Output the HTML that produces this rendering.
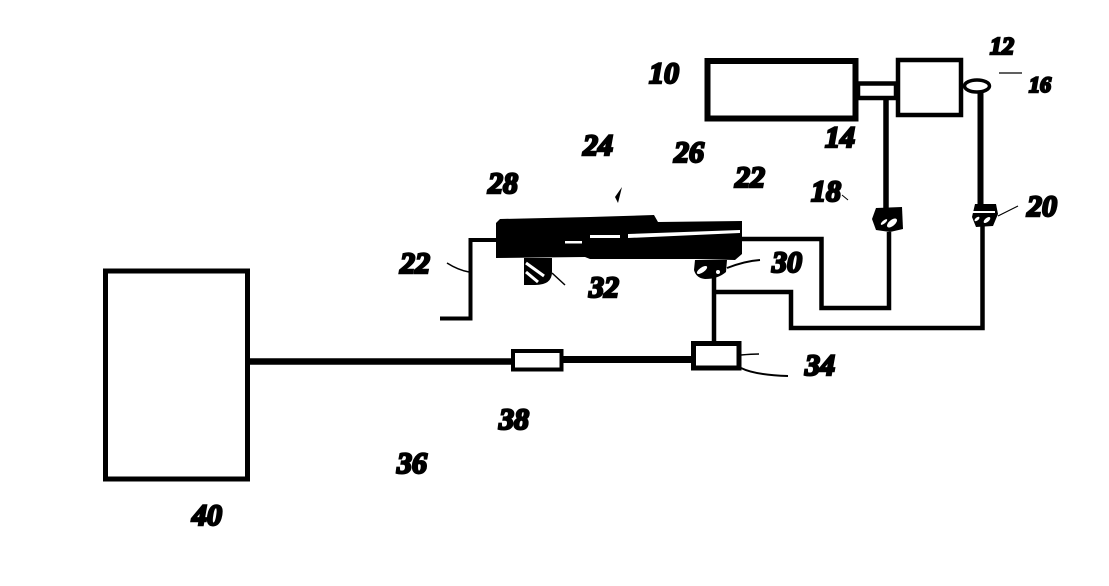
<!DOCTYPE html>
<html>
<head>
<meta charset="utf-8">
<style>
html,body{margin:0;padding:0;background:#fff;width:1109px;height:586px;overflow:hidden}
svg{display:block}
text{font-family:"Liberation Serif",serif;font-style:italic;font-weight:bold;font-size:30px;fill:#000;stroke:#000;stroke-width:2.4px;text-anchor:middle}
</style>
</head>
<body>
<svg width="1109" height="586" viewBox="0 0 1109 586" xmlns="http://www.w3.org/2000/svg">
<rect width="1109" height="586" fill="#fff"/>
<g fill="none" stroke="#000">
  <!-- top boxes -->
  <rect x="707.500" y="61" width="148" height="57.500" stroke-width="6"/>
  <rect x="898" y="60" width="63" height="55" stroke-width="4.500"/>
  <rect x="858" y="83.500" width="38" height="14.500" stroke-width="4.500"/>
  <!-- sensor -->
  <ellipse cx="977" cy="86" rx="12.500" ry="6" stroke-width="3.500"/>
  <!-- hoses -->
  <path d="M886 98V208" stroke-width="5.500"/>
  <path d="M980.500 92V205" stroke-width="6"/>
  <path d="M889 232V308H821.500V239H742" stroke-width="4.500"/>
  <path d="M982.500 226V328H791V292H714" stroke-width="4.500"/>
  <path d="M714 272V343" stroke-width="4.500"/>
  <path d="M496 240H470.500V318.500H440" stroke-width="4"/>
  <!-- bottom line -->
  <rect x="105.500" y="271" width="142" height="208" stroke-width="5"/>
  <path d="M250 361.500H512" stroke-width="6.500"/>
  <rect x="513" y="351" width="48.500" height="18.500" stroke-width="4"/>
  <path d="M563 359.500H691" stroke-width="7"/>
  <rect x="693.500" y="343.500" width="45.500" height="24.500" stroke-width="5"/>
  <!-- leaders -->
  <path d="M741 355Q752 354 759 354" stroke-width="1.500"/>
  <path d="M741 368Q755 375 788 376" stroke-width="2"/>
  <path d="M447 263Q458 270 469 272" stroke-width="1.500"/>
  <path d="M552 273L565 285" stroke-width="1.500"/>
  <path d="M727 268Q745 261 760 260" stroke-width="2"/>
  <path d="M998 216L1018 206" stroke-width="1.200"/>
  <path d="M999 73H1022" stroke-width="1.200"/>
  <path d="M842 195L848 200" stroke-width="1"/>
</g>
<!-- handpiece -->
<path d="M500 219L590 217L654 215L658 222L742 221V254L735 260L695 259L590 259L585 257L496 258L496 223Z" fill="#000"/>
<g fill="#fff">
  <path d="M565 241H582V243.500H565Z"/>
  <path d="M590 235H620V238H590Z"/>
  <path d="M628 234L740 230V233L628 238Z"/>
</g>
<!-- supports -->
<path d="M524 258H552V272Q552 285 535 285H524Z" fill="#000"/>
<g stroke="#fff" stroke-width="3" fill="none"><path d="M526 263L544 276"/><path d="M526 272L538 282"/></g>
<path d="M695 260H727L726 272Q718 279 705 279Q696 278 694 270Z" fill="#000"/>
<g fill="#fff"><ellipse cx="702" cy="270" rx="6" ry="2.500" transform="rotate(-35 702 270)"/><circle cx="718" cy="272" r="2"/></g>
<!-- valves -->
<path d="M876 208L902 207L903 229L890 232L876 230L872 219Z" fill="#000"/>
<g fill="#fff"><ellipse cx="892" cy="223" rx="6" ry="3" transform="rotate(-40 892 223)"/><ellipse cx="884" cy="222" rx="4" ry="1.500" transform="rotate(-40 884 222)"/></g>
<path d="M975 204H996L998 214L993 226L976 227L972 217Z" fill="#000"/>
<g fill="#fff"><path d="M972 211H995V213H972Z"/><ellipse cx="987" cy="220" rx="4" ry="2" transform="rotate(-40 987 220)"/><ellipse cx="977" cy="219" rx="3" ry="1.500" transform="rotate(-40 977 219)"/></g>
<!-- small tick -->
<path d="M622 187L618 203L615 197Z" fill="#000"/>
<!-- labels -->
<text x="664" y="83">10</text>
<text x="1002" y="54" style="font-size:24px">12</text>
<text x="1040" y="92" style="font-size:22px">16</text>
<text x="840" y="147">14</text>
<text x="598" y="155">24</text>
<text x="689" y="162">26</text>
<text x="750" y="187">22</text>
<text x="503" y="193">28</text>
<text x="826" y="201">18</text>
<text x="415" y="273">22</text>
<text x="604" y="297">32</text>
<text x="787" y="272">30</text>
<text x="1042" y="216">20</text>
<text x="820" y="375">34</text>
<text x="514" y="429">38</text>
<text x="412" y="473">36</text>
<text x="207" y="525">40</text>
</svg>
</body>
</html>
